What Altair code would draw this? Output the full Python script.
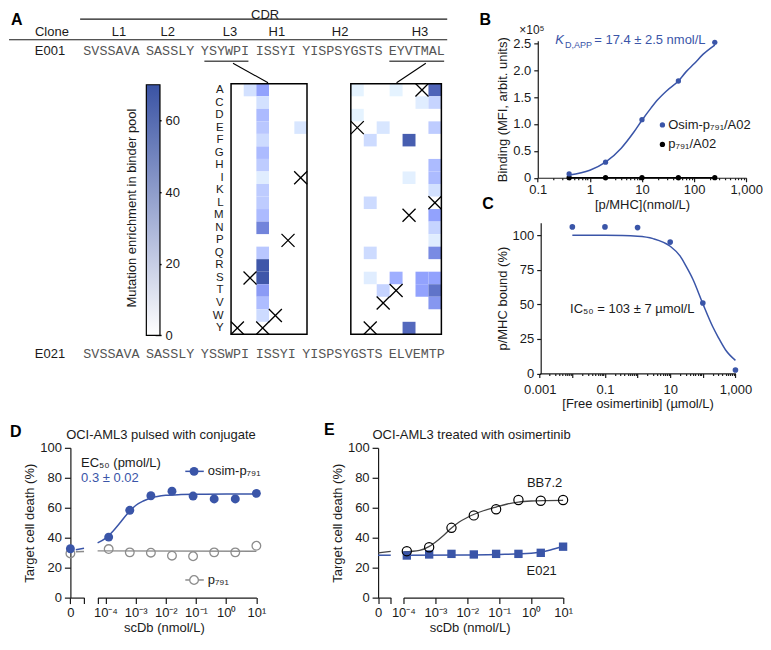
import altair as alt
import pandas as pd

# ---------------------------------------------------------------- data
AAS = list("ACDEFGHIKLMNPQRSTVWY")
CDR_NAMES = ["L1", "L2", "L3", "H1", "H2", "H3"]
E001_SEQ = ["SVSSAVA", "SASSLY", "YSYWPI", "ISSYI", "YISPSYGSTS", "EYVTMAL"]
E021_SEQ = ["SVSSAVA", "SASSLY", "YSSWPI", "ISSYI", "YISPSYGSTS", "ELVEMTP"]
L3_WT = "YSYWPI"
H3_WT = "EYVTMAL"
# mutation enrichment cells: (position, residue, enrichment)
L3_CELLS = [(2, "A", 10), (3, "A", 35), (3, "C", 10), (3, "D", 25), (3, "E", 20),
            (3, "F", 12), (3, "G", 25), (3, "H", 18), (3, "I", 5), (3, "K", 18),
            (3, "L", 18), (3, "M", 25), (3, "N", 48), (3, "Q", 20), (3, "R", 68),
            (3, "S", 68), (3, "T", 38), (3, "V", 24), (3, "W", 12), (6, "E", 8)]
H3_CELLS = [(1, "A", 3), (1, "D", 3), (2, "F", 12), (2, "L", 12), (2, "Q", 12),
            (2, "S", 5), (3, "E", 8), (3, "T", 15), (4, "A", 3), (4, "S", 30),
            (5, "F", 65), (5, "I", 4), (5, "Y", 60), (6, "C", 5), (6, "S", 35),
            (6, "T", 35), (7, "A", 62), (7, "C", 15), (7, "E", 18), (7, "H", 25),
            (7, "I", 25), (7, "K", 10), (7, "M", 35), (7, "N", 15), (7, "P", 5),
            (7, "Q", 45), (7, "S", 35), (7, "T", 55), (7, "V", 40)]
CBAR_TICKS = [0, 20, 40, 60]

B_CONC = [0.4, 2, 10, 50, 250]
B_OSIM = [0.07, 0.29, 1.08, 1.80, 2.52]
B_P791 = [0, 0, 0, 0, 0]
B_FIT_CONC = [0.4, 1, 2, 4, 7, 10, 15, 20, 30, 50, 70, 100, 150, 250]
B_FIT_OSIM = [0.05, 0.14, 0.29, 0.55, 0.85, 1.07, 1.30, 1.45, 1.62, 1.80, 1.97, 2.12, 2.30, 2.47]
B_FIT_P791_CONC = [0.4, 250]
B_FIT_P791 = [0, 0]

C_CONC = [0.01, 0.1, 1, 10, 100, 1000]
C_BOUND = [106, 106, 105.5, 95, 51, 2.5]
C_FIT_CONC = [0.01, 0.1, 1, 3, 10, 20, 30, 50, 100, 200, 300, 500, 1000]
C_FIT_BOUND = [100, 99.9, 99.2, 97.5, 92, 85, 78, 68, 50.5, 34, 26, 17, 9.5]

SCDB = [0.000128, 0.00064, 0.0032, 0.016, 0.08, 0.4, 2, 10]
D_OSIM = [40.4, 58.3, 68.0, 71.1, 67.8, 65.9, 65.9, 69.6]
D_P791 = [32.4, 30.2, 30.0, 28.0, 27.6, 30.2, 30.2, 34.6]
D_ZERO_OSIM = [32.6]
D_ZERO_P791 = [29.5]
D_FIT_CONC = [5.5e-5, 1e-4, 1.8e-4, 3.2e-4, 5.6e-4, 1e-3, 1.8e-3, 3.2e-3, 1e-2, 3.2e-2, 0.1, 1, 10]
D_FIT_OSIM = [36.5, 39.5, 44.5, 50.5, 56.5, 61.5, 64.5, 66.5, 68.3, 68.8, 69.0, 69.1, 69.1]
D_FIT_P791_CONC = [5.5e-5, 10]
D_FIT_P791 = [31.2, 30.9]
D_ZERO_SEG = [0.4, 1.0]
D_ZERO_SEG_OSIM = [32.0, 33.0]
D_ZERO_SEG_P791 = [30.6, 30.8]

E_BB72 = [31.0, 33.6, 46.6, 54.9, 59.0, 65.2, 64.7, 65.2]
E_E021 = [28.1, 28.8, 29.2, 28.8, 29.2, 29.2, 29.9, 34.0]
E_FIT_BB72_CONC = [1e-4, 3.2e-4, 6.3e-4, 1e-3, 1.8e-3, 3.2e-3, 5.6e-3, 1e-2, 1.8e-2,
                   3.2e-2, 0.08, 0.18, 0.4, 1, 3.2, 10]
E_FIT_BB72 = [30.5, 31.5, 34, 37, 41.5, 46.5, 50.5, 53.5, 56, 58, 60.5, 62.5, 63.8, 64.5, 64.8, 65]
E_FIT_E021_CONC = [1e-4, 1e-2, 0.1, 1, 2, 4, 10]
E_FIT_E021 = [28.3, 28.5, 28.8, 29.6, 30.4, 31.8, 34.3]
E_ZERO_SEG = [0.0, 1.0]
E_ZERO_SEG_BB72 = [29.8, 30.8]
E_ZERO_SEG_E021 = [28.3, 28.3]

# ---------------------------------------------------------------- layout
W, H = 752, 628
def X(px): return (px - 2) * 0.975
def Y(py): return (py - 3) * 0.98

FONT = "Liberation Sans"
MONO = "Liberation Mono"
INK = "#1a1a1a"
BLUE = "#3a55a8"
HEAT_BLUE = "#3a53a4"
GRAY = "#8c8c8c"
SEQ_GRAY = "#555555"
XPATH = "M-1,-1L1,1M-1,1L1,-1"

def lin(dom, rng):
    return alt.Scale(type="linear", domain=dom, range=rng, nice=False, zero=False)

def logs(dom, rng):
    return alt.Scale(type="log", domain=dom, range=rng, nice=False)

def pxs(): return lin([0, 771], [X(0), X(771)])
def pys(): return lin([0, 650], [Y(0), Y(650)])

def text_layer(rows, **mark):
    df = pd.DataFrame(rows, columns=["t", "px", "py"])
    return alt.Chart(df).mark_text(baseline="middle", **mark).encode(
        x=alt.X("px:Q", scale=pxs(), axis=None),
        y=alt.Y("py:Q", scale=pys(), axis=None),
        text="t:N")

def rule_layer(rows, **mark):
    df = pd.DataFrame(rows, columns=["x1", "y1", "x2", "y2"])
    return alt.Chart(df).mark_rule(**mark).encode(
        x=alt.X("x1:Q", scale=pxs(), axis=None), x2="x2:Q",
        y=alt.Y("y1:Q", scale=pys(), axis=None), y2="y2:Q")

def dot_layer(rows, mark="circle", **kw):
    df = pd.DataFrame(rows, columns=["px", "py"])
    ch = alt.Chart(df)
    m = ch.mark_circle(**kw) if mark == "circle" else ch.mark_point(**kw)
    return m.encode(x=alt.X("px:Q", scale=pxs(), axis=None),
                    y=alt.Y("py:Q", scale=pys(), axis=None))

MAJOR = "abs(log(datum.value)/LN10 - round(log(datum.value)/LN10)) < 0.001"
TICK_COND = {"condition": {"test": MAJOR, "value": 4}, "value": 2}

def sup_expr():
    L = "round(log(datum.value)/LN10)"
    s = f"abs(log(datum.value)/LN10 - {L}) > 0.01 ? '' : "
    for k, lab in [(-4, "10⁻⁴"), (-3, "10⁻³"), (-2, "10⁻²"), (-1, "10⁻¹"), (0, "10⁰"), (1, "10¹")]:
        s += f"{L} == {k} ? '{lab}' : "
    return s + "''"

layers = []

# ================================================================ Panel A
SEQ_X0, CHAR_W = 77, 8.04
def seq_spans(seqs):
    out, i = [], 0
    for s in seqs:
        out.append((SEQ_X0 + CHAR_W * i, SEQ_X0 + CHAR_W * (i + len(s))))
        i += len(s) + 1
    return out

spans_top = seq_spans(E001_SEQ)
spans_bot = seq_spans(E021_SEQ)
CDR_LABEL_X = [113, 163, 227, 275, 340, 422]

hdr = [("CDR", 263, 10), ("Clone", 44, 27), ("E001", 42, 47), ("E021", 42, 356)]
hdr += [(n, x, 27) for n, x in zip(CDR_NAMES, CDR_LABEL_X)]
layers.append(text_layer(hdr, fontSize=13, color=INK))
seq_rows = [(s, (a + b) / 2, 47) for s, (a, b) in zip(E001_SEQ, spans_top)]
seq_rows += [(s, (a + b) / 2, 356) for s, (a, b) in zip(E021_SEQ, spans_bot)]
layers.append(text_layer(seq_rows, font=MONO, fontSize=13.4, color=SEQ_GRAY))

layers.append(rule_layer([(73, 14, 450, 14), (0, 35, 450, 35)], color=INK, strokeWidth=1.2))
ul = [(spans_top[2][0] + 3, 57, spans_top[2][1], 57), (spans_top[5][0], 57, spans_top[5][1], 57)]
layers.append(rule_layer(ul, color=SEQ_GRAY, strokeWidth=1.6))
layers.append(rule_layer([(230, 59, 266, 79), (428, 59, 398, 79)], color="black", strokeWidth=1.1))

def heat_layers(cells, wt, x0, x1, show_rows):
    df = pd.DataFrame(cells, columns=["pos", "aa", "v"])
    xs = alt.Scale(domain=list(range(1, len(wt) + 1)), range=[X(x0), X(x1)],
                   paddingInner=0, paddingOuter=0)
    ys = alt.Scale(domain=AAS, range=[Y(80), Y(336)], paddingInner=0, paddingOuter=0)
    if show_rows:
        yax = alt.Axis(orient="left", offset=-X(x0), ticks=False, domain=False,
                       labelPadding=8, title=None, labelFontSize=11.5, labelColor=INK,
                       labelBaseline="middle")
    else:
        yax = None
    rect = alt.Chart(df).mark_rect().encode(
        x=alt.X("pos:O", scale=xs, axis=None),
        y=alt.Y("aa:N", scale=ys, axis=yax),
        color=alt.Color("v:Q", scale=alt.Scale(domain=[0, 70], range=["#ffffff", HEAT_BLUE]),
                        legend=None))
    wdf = pd.DataFrame({"pos": list(range(1, len(wt) + 1)), "aa": list(wt)})
    xm = alt.Chart(wdf).mark_point(shape=XPATH, size=170, filled=False, color="black",
                                   strokeWidth=1.3, opacity=1).encode(
        x=alt.X("pos:O", scale=xs, axis=None), y=alt.Y("aa:N", scale=ys, axis=None))
    return [rect, xm]

layers += heat_layers(L3_CELLS, L3_WT, 228, 306, True)
layers += heat_layers(H3_CELLS, H3_WT, 351, 444, False)
frames = pd.DataFrame([(228, 80, 306, 336), (351, 80, 444, 336)], columns=["x1", "y1", "x2", "y2"])
layers.append(alt.Chart(frames).mark_rect(fillOpacity=0, stroke="black", strokeWidth=1.5).encode(
    x=alt.X("x1:Q", scale=pxs(), axis=None), x2="x2:Q",
    y=alt.Y("y1:Q", scale=pys(), axis=None), y2="y2:Q"))

grad = alt.LinearGradient(gradient="linear",
                          stops=[alt.GradientStop(color="#ffffff", offset=0),
                                 alt.GradientStop(color=HEAT_BLUE, offset=1)],
                          x1=0, x2=0, y1=1, y2=0)
cb = pd.DataFrame({"lo": [0], "hi": [70], "x1": [141], "x2": [155]})
layers.append(alt.Chart(cb).mark_rect(fill=grad, stroke="black", strokeWidth=1.2).encode(
    x=alt.X("x1:Q", scale=pxs(), axis=None), x2="x2:Q",
    y=alt.Y("lo:Q", scale=lin([0, 70], [Y(337), Y(81)]),
            axis=alt.Axis(orient="right", offset=X(150) - W, values=CBAR_TICKS, tickSize=6,
                          tickWidth=1.4, tickColor="black", domain=False, labelPadding=4,
                          title=None)),
    y2="hi:Q"))
layers.append(text_layer([("Mutation enrichment in binder pool", 126, 207)],
                         fontSize=13, color=INK, angle=270))

# ================================================================ Panel B
bxs = logs([0.1, 1000], [X(543), X(757)])
bys = lin([0, 2.55], [Y(176), Y(36)])
B_TICKS = [m * 10 ** k for k in range(-1, 3) for m in range(1, 10)] + [1000]
b_xax = alt.Axis(orient="bottom", offset=Y(176) - H, values=B_TICKS, tickSize=TICK_COND,
                 labelExpr=f"{MAJOR} ? format(datum.value, ',') : ''", labelPadding=2,
                 title="[p/MHC](nmol/L)", titlePadding=2)
b_yax = alt.Axis(orient="left", offset=-X(543), values=[0, 0.5, 1, 1.5, 2, 2.5], tickSize=4,
                 labelExpr="datum.value == 0 ? '0' : format(datum.value, '.1f')",
                 labelPadding=3, title="Binding (MFI, arbit. units)", titlePadding=3)
bfit = pd.DataFrame({"c": B_FIT_CONC, "v": B_FIT_OSIM})
bfit0 = pd.DataFrame({"c": B_FIT_P791_CONC, "v": B_FIT_P791})
bdat = pd.DataFrame({"c": B_CONC, "o": B_OSIM, "p": B_P791})
layers.append(alt.Chart(bfit).mark_line(color=BLUE, strokeWidth=1.5, interpolate="monotone").encode(
    x=alt.X("c:Q", scale=bxs, axis=None), y=alt.Y("v:Q", scale=bys, axis=None)))
layers.append(alt.Chart(bfit0).mark_line(color="black", strokeWidth=1.6).encode(
    x=alt.X("c:Q", scale=bxs, axis=None), y=alt.Y("v:Q", scale=bys, axis=None)))
layers.append(alt.Chart(bdat).mark_circle(color="black", size=28, opacity=1).encode(
    x=alt.X("c:Q", scale=bxs, axis=None), y=alt.Y("p:Q", scale=bys, axis=None)))
layers.append(alt.Chart(bdat).mark_circle(color=BLUE, size=28, opacity=1).encode(
    x=alt.X("c:Q", scale=bxs, axis=b_xax), y=alt.Y("o:Q", scale=bys, axis=b_yax)))
layers.append(dot_layer([(671, 122)], color=BLUE, size=28, opacity=1))
layers.append(dot_layer([(671, 142)], color="black", size=28, opacity=1))
layers.append(text_layer([("Osim-p₇₉₁/A02", 677, 122), ("p₇₉₁/A02", 677, 142)],
                         fontSize=13, color=INK, align="left"))
layers.append(text_layer([("×10⁵", 537, 25)], fontSize=12, color=INK))
layers.append(text_layer([("K", 561, 35)], fontSize=13, color=BLUE, align="left", fontStyle="italic"))
layers.append(text_layer([("D,APP", 571, 40)], fontSize=9, color=BLUE, align="left"))
layers.append(text_layer([("= 17.4 ± 2.5 nmol/L", 601, 35)], fontSize=13, color=BLUE, align="left"))

# ================================================================ Panel C
cxs = logs([0.001, 1000], [X(545), X(746)])
cys = lin([0, 109], [Y(376), Y(222)])
C_TICKS = [m * 10 ** k for k in range(-3, 3) for m in range(1, 10)] + [1000]
c_xax = alt.Axis(orient="bottom", offset=Y(376) - H, values=C_TICKS, tickSize=TICK_COND,
                 labelExpr=f"({MAJOR} && abs(round(log(datum.value)/LN10)) % 2 == 1) ? format(datum.value, ',') : ''",
                 labelPadding=6, title="[Free osimertinib] (µmol/L)", titlePadding=1)
c_yax = alt.Axis(orient="left", offset=-X(546), values=[0, 25, 50, 75, 100], tickSize=4,
                 labelPadding=3, title="p/MHC bound (%)", titlePadding=3)
cfit = pd.DataFrame({"c": C_FIT_CONC, "v": C_FIT_BOUND})
cdat = pd.DataFrame({"c": C_CONC, "v": C_BOUND})
layers.append(alt.Chart(cfit).mark_line(color=BLUE, strokeWidth=1.5, interpolate="monotone").encode(
    x=alt.X("c:Q", scale=cxs, axis=None), y=alt.Y("v:Q", scale=cys, axis=None)))
layers.append(alt.Chart(cdat).mark_circle(color=BLUE, size=32, opacity=1).encode(
    x=alt.X("c:Q", scale=cxs, axis=c_xax), y=alt.Y("v:Q", scale=cys, axis=c_yax)))
layers.append(text_layer([("IC₅₀ = 103 ± 7 µmol/L", 640, 310)], fontSize=13, color=INK))

# ================================================================ Panel D
dys = lin([0, 100], [Y(605), Y(452)])
d0xs = lin([0, 1], [X(63), X(77)])
dlxs = logs([10 ** -4.258, 10], [X(91), X(254)])
D_LOG_TICKS = [10 ** -4.258, 1e-4, 1e-3, 1e-2, 1e-1, 1, 10]
d_yax = alt.Axis(orient="left", offset=-X(63), values=[0, 20, 40, 60, 80, 100], tickSize=6,
                 labelPadding=3, title="Target cell death (%)", titlePadding=3)
d0_xax = alt.Axis(orient="bottom", offset=Y(605) - H, values=[0, 1], tickSize=6,
                  labelExpr="datum.value == 0 ? '0' : ''", labelPadding=3, title=None)
dl_xax = alt.Axis(orient="bottom", offset=Y(605) - H, values=D_LOG_TICKS, tickSize=6,
                  labelExpr=sup_expr(), labelPadding=3, title="scDb (nmol/L)",
                  titleX=X(159), titlePadding=2)

d0seg = pd.DataFrame({"c": D_ZERO_SEG, "o": D_ZERO_SEG_OSIM, "p": D_ZERO_SEG_P791})
layers.append(alt.Chart(d0seg).mark_line(color=GRAY, strokeWidth=1.5).encode(
    x=alt.X("c:Q", scale=d0xs, axis=None), y=alt.Y("p:Q", scale=dys, axis=None)))
layers.append(alt.Chart(d0seg).mark_line(color=BLUE, strokeWidth=1.5).encode(
    x=alt.X("c:Q", scale=d0xs, axis=None), y=alt.Y("o:Q", scale=dys, axis=None)))
d0p = pd.DataFrame({"c": [0], "v": D_ZERO_P791})
d0o = pd.DataFrame({"c": [0], "v": D_ZERO_OSIM})
layers.append(alt.Chart(d0p).mark_point(shape="circle", size=75, filled=False, color=GRAY,
                                        strokeWidth=1.3, opacity=1).encode(
    x=alt.X("c:Q", scale=d0xs, axis=None), y=alt.Y("v:Q", scale=dys, axis=None)))
layers.append(alt.Chart(d0o).mark_circle(size=80, color=BLUE, opacity=1).encode(
    x=alt.X("c:Q", scale=d0xs, axis=d0_xax), y=alt.Y("v:Q", scale=dys, axis=d_yax)))

dfit = pd.DataFrame({"c": D_FIT_CONC, "v": D_FIT_OSIM})
dfit0 = pd.DataFrame({"c": D_FIT_P791_CONC, "v": D_FIT_P791})
ddat = pd.DataFrame({"c": SCDB, "o": D_OSIM, "p": D_P791})
layers.append(alt.Chart(dfit0).mark_line(color=GRAY, strokeWidth=1.5).encode(
    x=alt.X("c:Q", scale=dlxs, axis=None), y=alt.Y("v:Q", scale=dys, axis=None)))
layers.append(alt.Chart(dfit).mark_line(color=BLUE, strokeWidth=1.5, interpolate="monotone").encode(
    x=alt.X("c:Q", scale=dlxs, axis=None), y=alt.Y("v:Q", scale=dys, axis=None)))
layers.append(alt.Chart(ddat).mark_point(shape="circle", size=75, filled=False, color=GRAY,
                                         strokeWidth=1.3, opacity=1).encode(
    x=alt.X("c:Q", scale=dlxs, axis=None), y=alt.Y("p:Q", scale=dys, axis=None)))
layers.append(alt.Chart(ddat).mark_circle(size=80, color=BLUE, opacity=1).encode(
    x=alt.X("c:Q", scale=dlxs, axis=dl_xax), y=alt.Y("o:Q", scale=dys, axis=None)))
# legend D
layers.append(rule_layer([(181, 476, 200, 476)], color=BLUE, strokeWidth=1.5))
layers.append(rule_layer([(181, 587, 200, 587)], color=GRAY, strokeWidth=1.5))
layers.append(dot_layer([(190, 476)], color=BLUE, size=80, opacity=1))
layers.append(dot_layer([(190, 587)], mark="point", shape="circle", size=75, filled=False,
                        color=GRAY, strokeWidth=1.3, opacity=1, fill="white"))
layers.append(text_layer([("osim-p₇₉₁", 204, 476), ("p₇₉₁", 204, 587), ("EC₅₀ (pmol/L)", 74, 467)],
                         fontSize=13, color=INK, align="left"))
layers.append(text_layer([("0.3 ± 0.02", 74, 483)], fontSize=13, color=BLUE, align="left"))

# ================================================================ Panel E
eys = lin([0, 100], [Y(605), Y(452)])
e0xs = lin([0, 1], [X(379), X(392)])
elxs = logs([1e-4, 10], [X(405), X(569)])
e_yax = alt.Axis(orient="left", offset=-X(379), values=[0, 20, 40, 60, 80, 100], tickSize=6,
                 labelPadding=3, title="Target cell death (%)", titlePadding=3)
e0_xax = alt.Axis(orient="bottom", offset=Y(605) - H, values=[0, 1], tickSize=6,
                  labelExpr="datum.value == 0 ? '0' : ''", labelPadding=3, title=None)
el_xax = alt.Axis(orient="bottom", offset=Y(605) - H, values=[1e-4, 1e-3, 1e-2, 1e-1, 1, 10],
                  tickSize=6, labelExpr=sup_expr(), labelPadding=3, title="scDb (nmol/L)",
                  titleX=X(473), titlePadding=2)

e0seg = pd.DataFrame({"c": E_ZERO_SEG, "b": E_ZERO_SEG_BB72, "e": E_ZERO_SEG_E021})
layers.append(alt.Chart(e0seg).mark_line(color="#444444", strokeWidth=1.3).encode(
    x=alt.X("c:Q", scale=e0xs, axis=e0_xax), y=alt.Y("b:Q", scale=eys, axis=e_yax)))
layers.append(alt.Chart(e0seg).mark_line(color=BLUE, strokeWidth=1.5).encode(
    x=alt.X("c:Q", scale=e0xs, axis=None), y=alt.Y("e:Q", scale=eys, axis=None)))

efitb = pd.DataFrame({"c": E_FIT_BB72_CONC, "v": E_FIT_BB72})
efite = pd.DataFrame({"c": E_FIT_E021_CONC, "v": E_FIT_E021})
edat = pd.DataFrame({"c": SCDB, "b": E_BB72, "e": E_E021})
layers.append(alt.Chart(efite).mark_line(color=BLUE, strokeWidth=1.5, interpolate="monotone").encode(
    x=alt.X("c:Q", scale=elxs, axis=None), y=alt.Y("v:Q", scale=eys, axis=None)))
layers.append(alt.Chart(efitb).mark_line(color="#444444", strokeWidth=1.3, interpolate="monotone").encode(
    x=alt.X("c:Q", scale=elxs, axis=None), y=alt.Y("v:Q", scale=eys, axis=None)))
layers.append(alt.Chart(edat).mark_square(size=70, color=BLUE, opacity=1).encode(
    x=alt.X("c:Q", scale=elxs, axis=el_xax), y=alt.Y("e:Q", scale=eys, axis=None)))
layers.append(alt.Chart(edat).mark_point(shape="circle", size=85, filled=False, color="black",
                                         strokeWidth=1.2, opacity=1).encode(
    x=alt.X("c:Q", scale=elxs, axis=None), y=alt.Y("b:Q", scale=eys, axis=None)))
layers.append(text_layer([("BB7.2", 550, 488), ("E021", 547, 578)], fontSize=13, color=INK))

# ================================================================ titles & panel letters
layers.append(text_layer([("OCI-AML3 pulsed with conjugate", 156, 439),
                          ("OCI-AML3 treated with osimertinib", 475, 439)],
                         fontSize=13, color=INK))
layers.append(text_layer([("A", 8, 15), ("B", 489, 15), ("C", 492, 203), ("D", 7, 436),
                          ("E", 329, 434)], fontSize=16, fontWeight="bold", color="black"))

chart = alt.layer(*layers).resolve_scale(x="independent", y="independent").properties(
    width=W, height=H, padding=0
).configure(font=FONT).configure_view(stroke=None).configure_axis(
    grid=False, labelFont=FONT, titleFont=FONT, labelFontSize=13, titleFontSize=13,
    labelColor=INK, titleColor=INK, domainColor=INK, tickColor=INK, domainWidth=1.2,
    tickWidth=1.2, titleFontWeight="normal", labelOverlap=False, labelFlush=False)

chart.save("out.html", embed_options={"renderer": "svg", "actions": False})
